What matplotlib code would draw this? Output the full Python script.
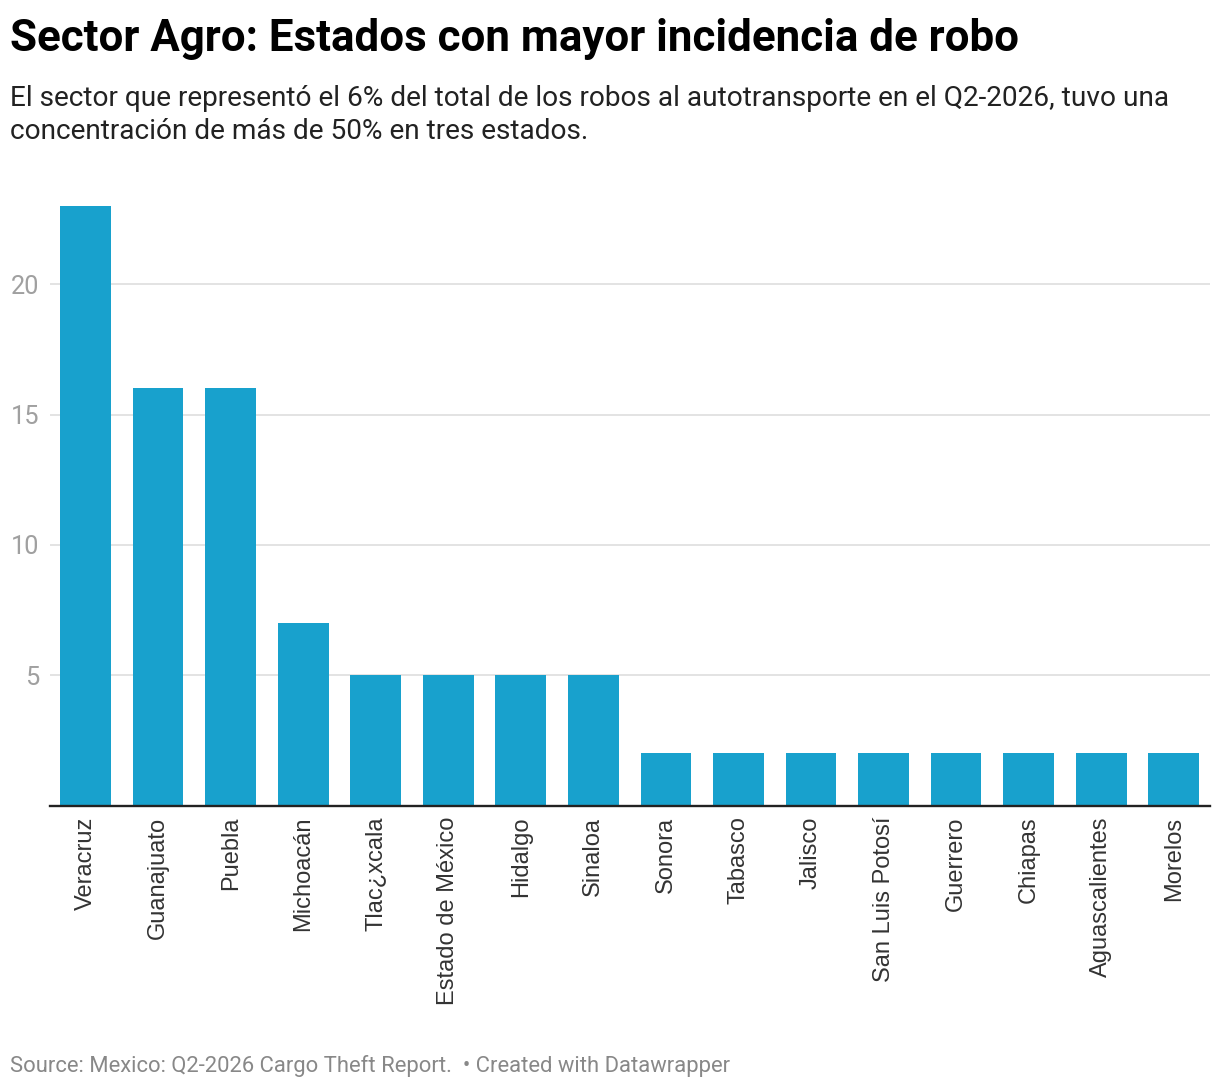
import numpy as np
import matplotlib.pyplot as plt

# === DATOS ===
estados = [
    "Veracruz", "Guanajuato", "Puebla", "Michoacán", "Tlac¿xcala",
    "Estado de México", "Hidalgo", "Sinaloa", "Sonora", "Tabasco",
    "Jalisco", "San Luis Potosí", "Guerrero", "Chiapas",
    "Aguascalientes", "Morelos",
]
robos = [23, 16, 16, 7, 5, 5, 5, 5, 2, 2, 2, 2, 2, 2, 2, 2]
y_ticks = [5, 10, 15, 20]

TITLE = "Sector Agro: Estados con mayor incidencia de robo"
SUBTITLE_1 = "El sector que representó el 6% del total de los robos al autotransporte en el Q2-2026, tuvo una"
SUBTITLE_2 = "concentración de más de 50% en tres estados."
SOURCE = "Source: Mexico: Q2-2026 Cargo Theft Report.  • Created with Datawrapper"

BAR_COLOR = "#18a1cd"

W, H = 1220, 1088
fig = plt.figure(figsize=(W / 100, H / 100), dpi=100)

# area del grafico in pixel: sinistra 50, destra 1210, alto 206, basso 805.5
left, right, top, bottom = 50, 1210, 206, 805.5
ax = fig.add_axes([left / W, (H - bottom) / H, (right - left) / W, (bottom - top) / H])

x = np.arange(len(estados))
ax.bar(x, robos, width=0.7, color=BAR_COLOR, zorder=2)

ax.set_xlim(-0.49, len(estados) - 0.5)
ax.set_ylim(0, 23)

ax.set_yticks(y_ticks)
ax.set_yticklabels([str(t) for t in y_ticks], fontfamily="Roboto", fontsize=18.3, color="#a0a0a0")
ax.tick_params(axis="y", length=0, pad=8)
ax.grid(axis="y", color="#e3e3e3", linewidth=1.4, zorder=0)

ax.set_xticks(x)
ax.set_xticklabels(estados, rotation=90, fontfamily="Liberation Sans", fontsize=17,
                   color="#333333", va="top", ha="center")
ax.tick_params(axis="x", length=0, pad=8)

for s in ["top", "right", "left"]:
    ax.spines[s].set_visible(False)
ax.spines["bottom"].set_color("#222222")
ax.spines["bottom"].set_linewidth(1.7)
ax.spines["bottom"].set_zorder(3)

fig.text(10 / W, 1 - 51 / H, TITLE, fontfamily="Roboto", fontweight="bold", fontsize=31.6,
         color="#000000", ha="left", va="baseline")
fig.text(10 / W, 1 - 106 / H, SUBTITLE_1, fontfamily="Roboto", fontsize=20.17,
         color="#222222", ha="left", va="baseline")
fig.text(10 / W, 1 - 139 / H, SUBTITLE_2, fontfamily="Roboto", fontsize=20.17,
         color="#222222", ha="left", va="baseline")
fig.text(10 / W, 1 - 1072 / H, SOURCE, fontfamily="Roboto", fontsize=15.8,
         color="#888888", ha="left", va="baseline")

fig.savefig("out.png", dpi=100, facecolor="white")
